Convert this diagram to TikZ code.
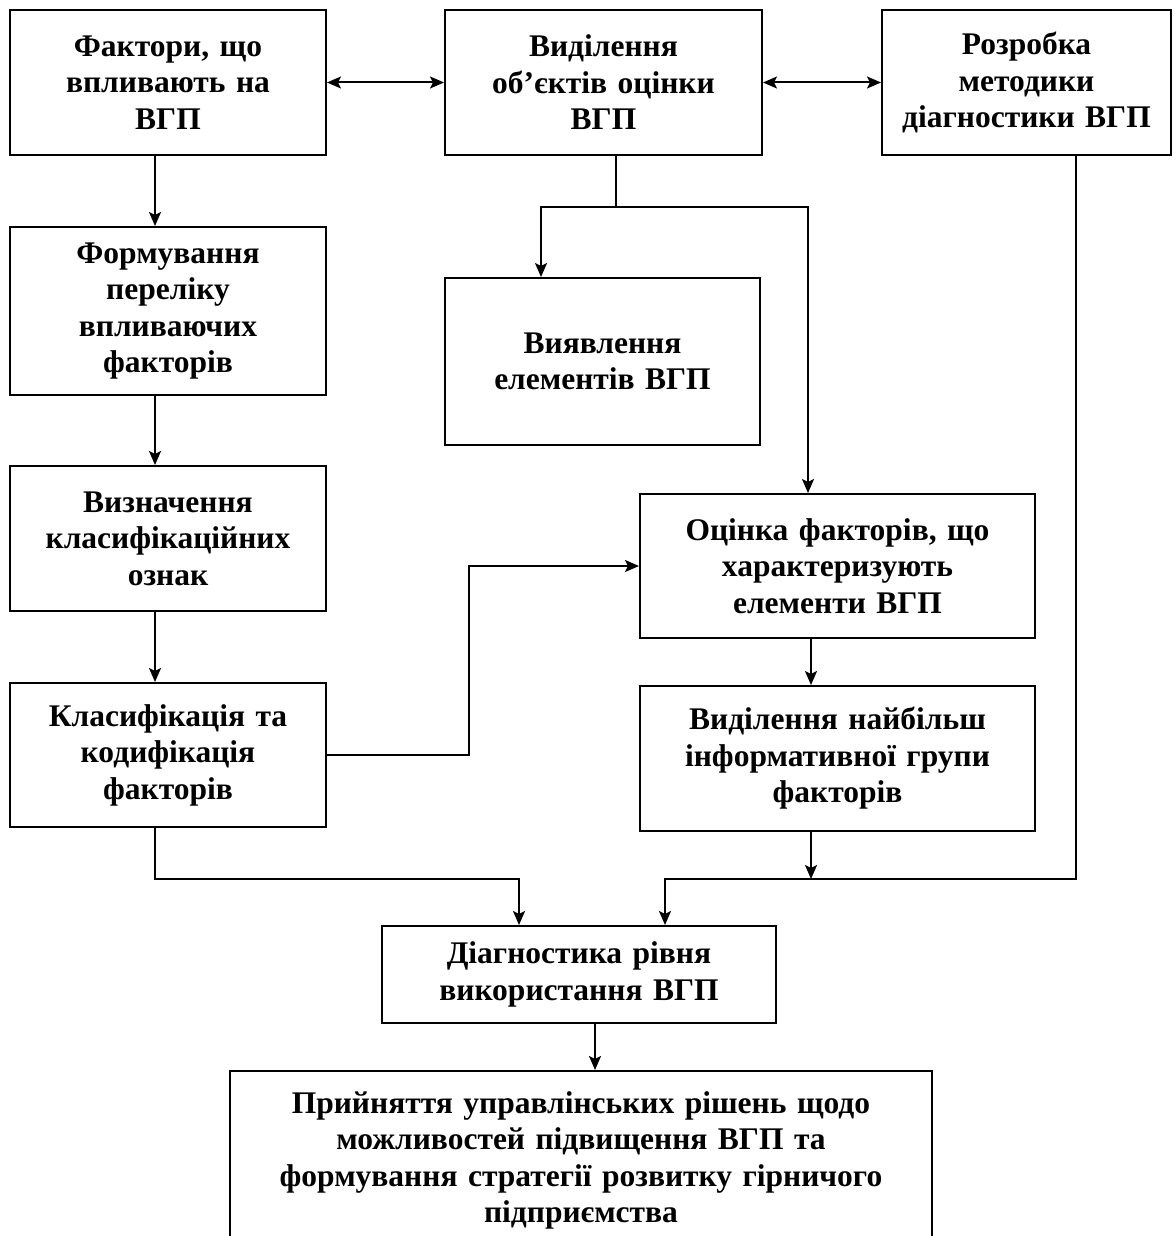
\documentclass[tikz,border=0pt]{standalone}
\usepackage{fontspec}
\setmainfont{Liberation Serif}
\usetikzlibrary{arrows.meta}
\begin{document}
\begin{tikzpicture}[x=1pt,y=-1pt,
  box/.style={draw, line width=2pt, align=center, inner sep=4pt,
    font=\fontsize{31.5}{36.5}\selectfont\bfseries},
  arr/.style={line width=2pt, -{Stealth[length=14pt,width=12pt,inset=3pt]}},
  darr/.style={line width=2pt, {Stealth[length=14pt,width=12pt,inset=3pt]}-{Stealth[length=14pt,width=12pt,inset=3pt]}},
  ln/.style={line width=2pt}]
\useasboundingbox (0,0) rectangle (1173,1236);
\node[box, minimum width=316pt, minimum height=145pt, text width=306pt] (b1) at (168,82.5) {Фактори, що\\впливають на\\ВГП};
\node[box, minimum width=317pt, minimum height=145pt, text width=306pt] (b2) at (603.5,82.5) {Виділення\\об’єктів оцінки\\ВГП};
\node[box, minimum width=289pt, minimum height=145pt, text width=280pt] (b3) at (1026.5,82.5) {Розробка\\методики\\діагностики ВГП};
\node[box, minimum width=316pt, minimum height=168pt, text width=306pt] (b4) at (168,311) {Формування\\переліку\\впливаючих\\факторів};
\node[box, minimum width=316pt, minimum height=145pt, text width=306pt] (b5) at (168,538.5) {Визначення\\класифікаційних\\ознак};
\node[box, minimum width=316pt, minimum height=144pt, text width=306pt] (b6) at (168,755) {Класифікація та\\кодифікація\\факторів};
\node[box, minimum width=315pt, minimum height=167pt, text width=306pt] (b7) at (602.5,361.5) {Виявлення\\елементів ВГП};
\node[box, minimum width=395pt, minimum height=144pt, text width=385pt] (b8) at (837.5,566) {Оцінка факторів, що\\характеризують\\елементи ВГП};
\node[box, minimum width=395pt, minimum height=145pt, text width=385pt] (b9) at (837.5,758.5) {Виділення найбільш\\інформативної групи\\факторів};
\node[box, minimum width=394pt, minimum height=97pt, text width=385pt] (b10) at (579,974.5) {Діагностика рівня\\використання ВГП};
\node[box, minimum width=702pt, minimum height=179pt, text width=690pt] (b11) at (581,1160.5) {Прийняття управлінських рішень щодо\\можливостей підвищення ВГП та\\формування стратегії розвитку гірничого\\підприємства};

\draw[darr] (b1.east) -- (b2.west);
\draw[darr] (b2.east) -- (b3.west);
\draw[arr] ([xshift=-13pt]b1.south) -- ([xshift=-13pt]b4.north);
\draw[arr] ([xshift=-13pt]b4.south) -- ([xshift=-13pt]b5.north);
\draw[arr] ([xshift=-13pt]b5.south) -- ([xshift=-13pt]b6.north);
\draw[arr] ([xshift=12.5pt]b2.south) -- ++(0,51) -| ([xshift=-61.5pt]b7.north);
\draw[arr] ([xshift=12.5pt]b2.south) -- ++(0,51) -| ([xshift=-29.5pt]b8.north);
\draw[arr] (b6.east) -- ++(142,0) |- (b8.west);
\draw[arr] ([xshift=-26.5pt]b8.south) -- ([xshift=-26.5pt]b9.north);
\draw[arr] ([xshift=-26.5pt]b9.south) -- ++(0,47);
\draw[arr] ([xshift=49.5pt]b3.south) -- ++(0,723) -| ([xshift=86pt]b10.north);
\draw[arr] ([xshift=-13pt]b6.south) -- ++(0,51) -| ([xshift=-60pt]b10.north);
\draw[arr] ([xshift=16pt]b10.south) -- ([xshift=16pt]b10.south |- b11.north);
\end{tikzpicture}
\end{document}
